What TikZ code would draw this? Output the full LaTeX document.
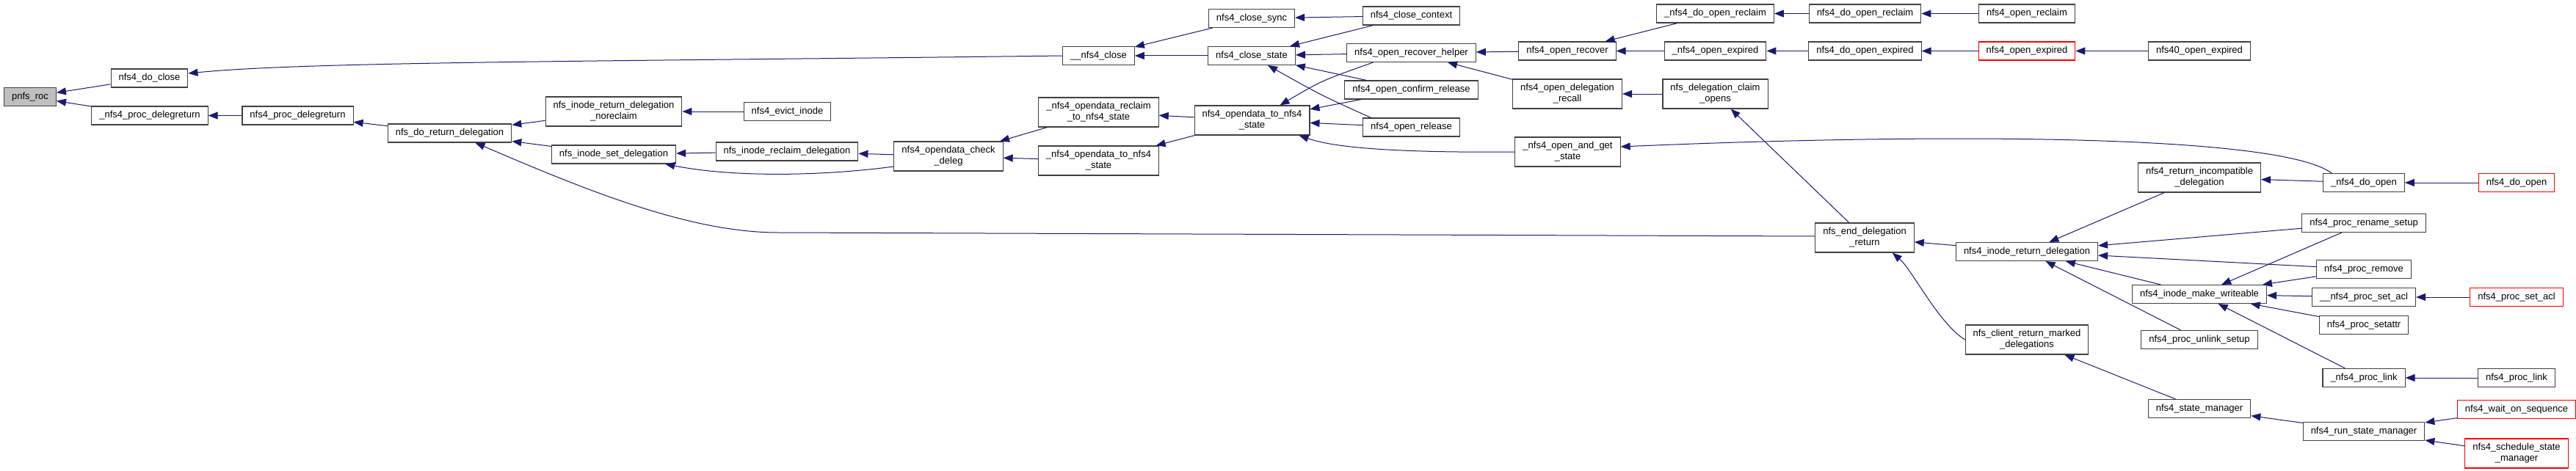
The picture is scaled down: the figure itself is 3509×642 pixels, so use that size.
\documentclass[tikz,border=0pt]{standalone}
\usepackage{fontspec}
\setmainfont{Liberation Sans}
\usetikzlibrary{arrows.meta}
\definecolor{edgeblue}{HTML}{191970}
\tikzset{
  fn/.style={draw=black!75, fill=white, line width=1.1pt, inner xsep=10.5pt, inner ysep=0pt,
    minimum height=25pt, align=center, font=\fontsize{13}{15}\selectfont},
  fn2/.style={fn, minimum height=40pt},
  hot/.style={draw=red},
  call/.style={edgeblue, line width=1pt, -{Triangle[length=13pt,width=10pt]}},
}
\begin{document}
\begin{tikzpicture}[x=1pt, y=-1pt]
  \useasboundingbox (0,0) rectangle (3509,642);

  \node[fn, fill=gray!50] (roc) at (41,132) {pnfs\_roc};
  \node[fn] (doclose) at (203.5,106.5) {nfs4\_do\_close};
  \node[fn] (pdelegret) at (204,157.5) {\_nfs4\_proc\_delegreturn};
  \node[fn] (procdelegret) at (405.5,157.5) {nfs4\_proc\_delegreturn};
  \node[fn] (doretdeleg) at (612.5,181.5) {nfs\_do\_return\_delegation};
  \node[fn2] (retnoreclaim) at (836,152) {nfs\_inode\_return\_delegation\\\_noreclaim};
  \node[fn] (setdeleg) at (836,210.5) {nfs\_inode\_set\_delegation};
  \node[fn] (evict) at (1072.5,152) {nfs4\_evict\_inode};
  \node[fn] (reclaimdeleg) at (1072,206.5) {nfs\_inode\_reclaim\_delegation};
  \node[fn2] (checkdeleg) at (1292,213) {nfs4\_opendata\_check\\\_deleg};
  \node[fn] (uuclose) at (1496.5,76) {\_\_nfs4\_close};
  \node[fn2] (odreclaim) at (1496.5,153) {\_nfs4\_opendata\_reclaim\\\_to\_nfs4\_state};
  \node[fn2] (odtostate) at (1496.5,219) {\_nfs4\_opendata\_to\_nfs4\\\_state};
  \node[fn] (closesync) at (1705,25) {nfs4\_close\_sync};
  \node[fn] (closestate) at (1705,76) {nfs4\_close\_state};
  \node[fn2] (opendatastate) at (1705.5,164) {nfs4\_opendata\_to\_nfs4\\\_state};
  \node[fn] (closectx) at (1922.5,21.5) {nfs4\_close\_context};
  \node[fn] (rechelper) at (1922.5,72) {nfs4\_open\_recover\_helper};
  \node[fn] (confirmrel) at (1922.5,122.5) {nfs4\_open\_confirm\_release};
  \node[fn] (openrel) at (1922.5,173.5) {nfs4\_open\_release};
  \node[fn] (openrecover) at (2135,69.5) {nfs4\_open\_recover};
  \node[fn2] (delegrecall) at (2135,128) {nfs4\_open\_delegation\\\_recall};
  \node[fn2] (openget) at (2135.5,207) {\_nfs4\_open\_and\_get\\\_state};
  \node[fn] (dooprecl) at (2336.5,18.5) {\_nfs4\_do\_open\_reclaim};
  \node[fn] (uopexp) at (2336.5,69.5) {\_nfs4\_open\_expired};
  \node[fn2] (claimopens) at (2336.5,128) {nfs\_delegation\_claim\\\_opens};
  \node[fn] (doopreclaim) at (2540.5,18.5) {nfs4\_do\_open\_reclaim};
  \node[fn] (doopexp) at (2540.5,69.5) {nfs4\_do\_open\_expired};
  \node[fn2] (enddeleg) at (2540,324) {nfs\_end\_delegation\\\_return};

  \node[fn] (openreclaim) at (2761,18.5) {nfs4\_open\_reclaim};
  \node[fn, hot] (openexp) at (2761,69.5) {nfs4\_open\_expired};
  \node[fn] (inoderet) at (2761,343) {nfs4\_inode\_return\_delegation};
  \node[fn2] (marked) at (2761,463) {nfs\_client\_return\_marked\\\_delegations};
  \node[fn] (open40exp) at (2996,69.5) {nfs40\_open\_expired};
  \node[fn2] (retincompat) at (2996,242) {nfs4\_return\_incompatible\\\_delegation};
  \node[fn] (writeable) at (2996,401) {nfs4\_inode\_make\_writeable};
  \node[fn] (unlinksetup) at (2996,463) {nfs4\_proc\_unlink\_setup};
  \node[fn] (statemgr) at (2996,557) {nfs4\_state\_manager};
  \node[fn] (udoopen) at (3220,249) {\_nfs4\_do\_open};
  \node[fn] (renamesetup) at (3220,304) {nfs4\_proc\_rename\_setup};
  \node[fn] (procremove) at (3220,367) {nfs4\_proc\_remove};
  \node[fn] (usetacl) at (3220,405) {\_\_nfs4\_proc\_set\_acl};
  \node[fn] (setattr) at (3220,443) {nfs4\_proc\_setattr};
  \node[fn] (uproclink) at (3220,515) {\_nfs4\_proc\_link};
  \node[fn] (runstate) at (3220,588) {nfs4\_run\_state\_manager};
  \node[fn, hot] (doopen) at (3428,249) {nfs4\_do\_open};
  \node[fn, hot] (setacl) at (3428,405) {nfs4\_proc\_set\_acl};
  \node[fn] (proclink) at (3428,515) {nfs4\_proc\_link};
  \node[fn, hot] (waitseq) at (3428,558) {nfs4\_wait\_on\_sequence};
  \node[fn2, hot] (schedstate) at (3428,618) {nfs4\_schedule\_state\\\_manager};

  \draw[call] (doclose) -- (roc);
  \draw[call] (pdelegret) -- (roc);
  \draw[call] (procdelegret) -- (pdelegret);
  \draw[call] (uuclose.west) .. controls (800,84) and (420,84) .. ([yshift=6.5pt]doclose.east);
  \draw[call] (doretdeleg) -- (procdelegret);
  \draw[call] (retnoreclaim) -- (doretdeleg);
  \draw[call] (setdeleg) -- (doretdeleg);
  \draw[call] ([yshift=2pt]enddeleg.west) -- (1060,317) .. controls (940,317) and (800,260) .. ([xshift=35pt]doretdeleg.south);
  \draw[call] (evict) -- (retnoreclaim);
  \draw[call] (reclaimdeleg) -- (setdeleg);
  \draw[call] (checkdeleg) -- (reclaimdeleg);
  \draw[call] ([yshift=-14pt]checkdeleg.west) .. controls (1120,240) and (1000,242) .. ([xshift=-15pt]setdeleg.south east);
  \draw[call] (odreclaim) -- (checkdeleg);
  \draw[call] (odtostate) -- (checkdeleg);
  \draw[call] (closesync) -- (uuclose);
  \draw[call] (closestate) -- (uuclose);
  \draw[call] (opendatastate) -- (odreclaim);
  \draw[call] (opendatastate) -- (odtostate);
  \draw[call] (closectx) -- (closesync);
  \draw[call] (closectx) -- (closestate);
  \draw[call] (rechelper) -- (closestate);
  \draw[call] (confirmrel) -- (closestate);
  \draw[call] ([xshift=-55pt]openrel.north) .. controls (1800,130) .. ([xshift=22pt]closestate.south);
  \draw[call] ([xshift=-52pt]rechelper.south) .. controls (1800,110) .. ([xshift=38pt]opendatastate.north);
  \draw[call] (confirmrel) -- (opendatastate);
  \draw[call] (openrel) -- (opendatastate);
  \draw[call] (openget.west) .. controls (1850,209) and (1800,195) .. ([xshift=64pt]opendatastate.south);
  \draw[call] (openrecover) -- (rechelper);
  \draw[call] (delegrecall) -- (rechelper);
  \draw[call] (dooprecl) -- (openrecover);
  \draw[call] (uopexp) -- (openrecover);
  \draw[call] (claimopens) -- (delegrecall);
  \draw[call] (enddeleg) -- (claimopens);

  \draw[call] (doopreclaim) -- (dooprecl);
  \draw[call] (doopexp) -- (uopexp);
  \draw[call] (openreclaim) -- (doopreclaim);
  \draw[call] (openexp) -- (doopexp);
  \draw[call] (open40exp) -- (openexp);
  \draw[call] (inoderet) -- (enddeleg);
  \draw[call] (marked.west) .. controls (2640,440) and (2605,368) .. ([xshift=-30pt]enddeleg.south east);
  \draw[call] (retincompat) -- (inoderet);
  \draw[call] (writeable) -- (inoderet);
  \draw[call] (unlinksetup) -- (inoderet);
  \draw[call] (statemgr) -- (marked);
  \draw[call] (udoopen) -- (retincompat);
  \draw[call] ([xshift=12pt]udoopen.north west) .. controls (3100,180) and (2600,183) .. ([yshift=7pt]openget.east);
  \draw[call] (renamesetup) -- (inoderet);
  \draw[call] (renamesetup) -- (writeable);
  \draw[call] (procremove) -- (inoderet);
  \draw[call] (procremove) -- (writeable);
  \draw[call] (usetacl) -- (writeable);
  \draw[call] (setattr) -- (writeable);
  \draw[call] (uproclink) -- (writeable);
  \draw[call] (runstate) -- (statemgr);
  \draw[call] (doopen) -- (udoopen);
  \draw[call] (setacl) -- (usetacl);
  \draw[call] (proclink) -- (uproclink);
  \draw[call] (waitseq) -- (runstate);
  \draw[call] (schedstate) -- (runstate);
\end{tikzpicture}
\end{document}
